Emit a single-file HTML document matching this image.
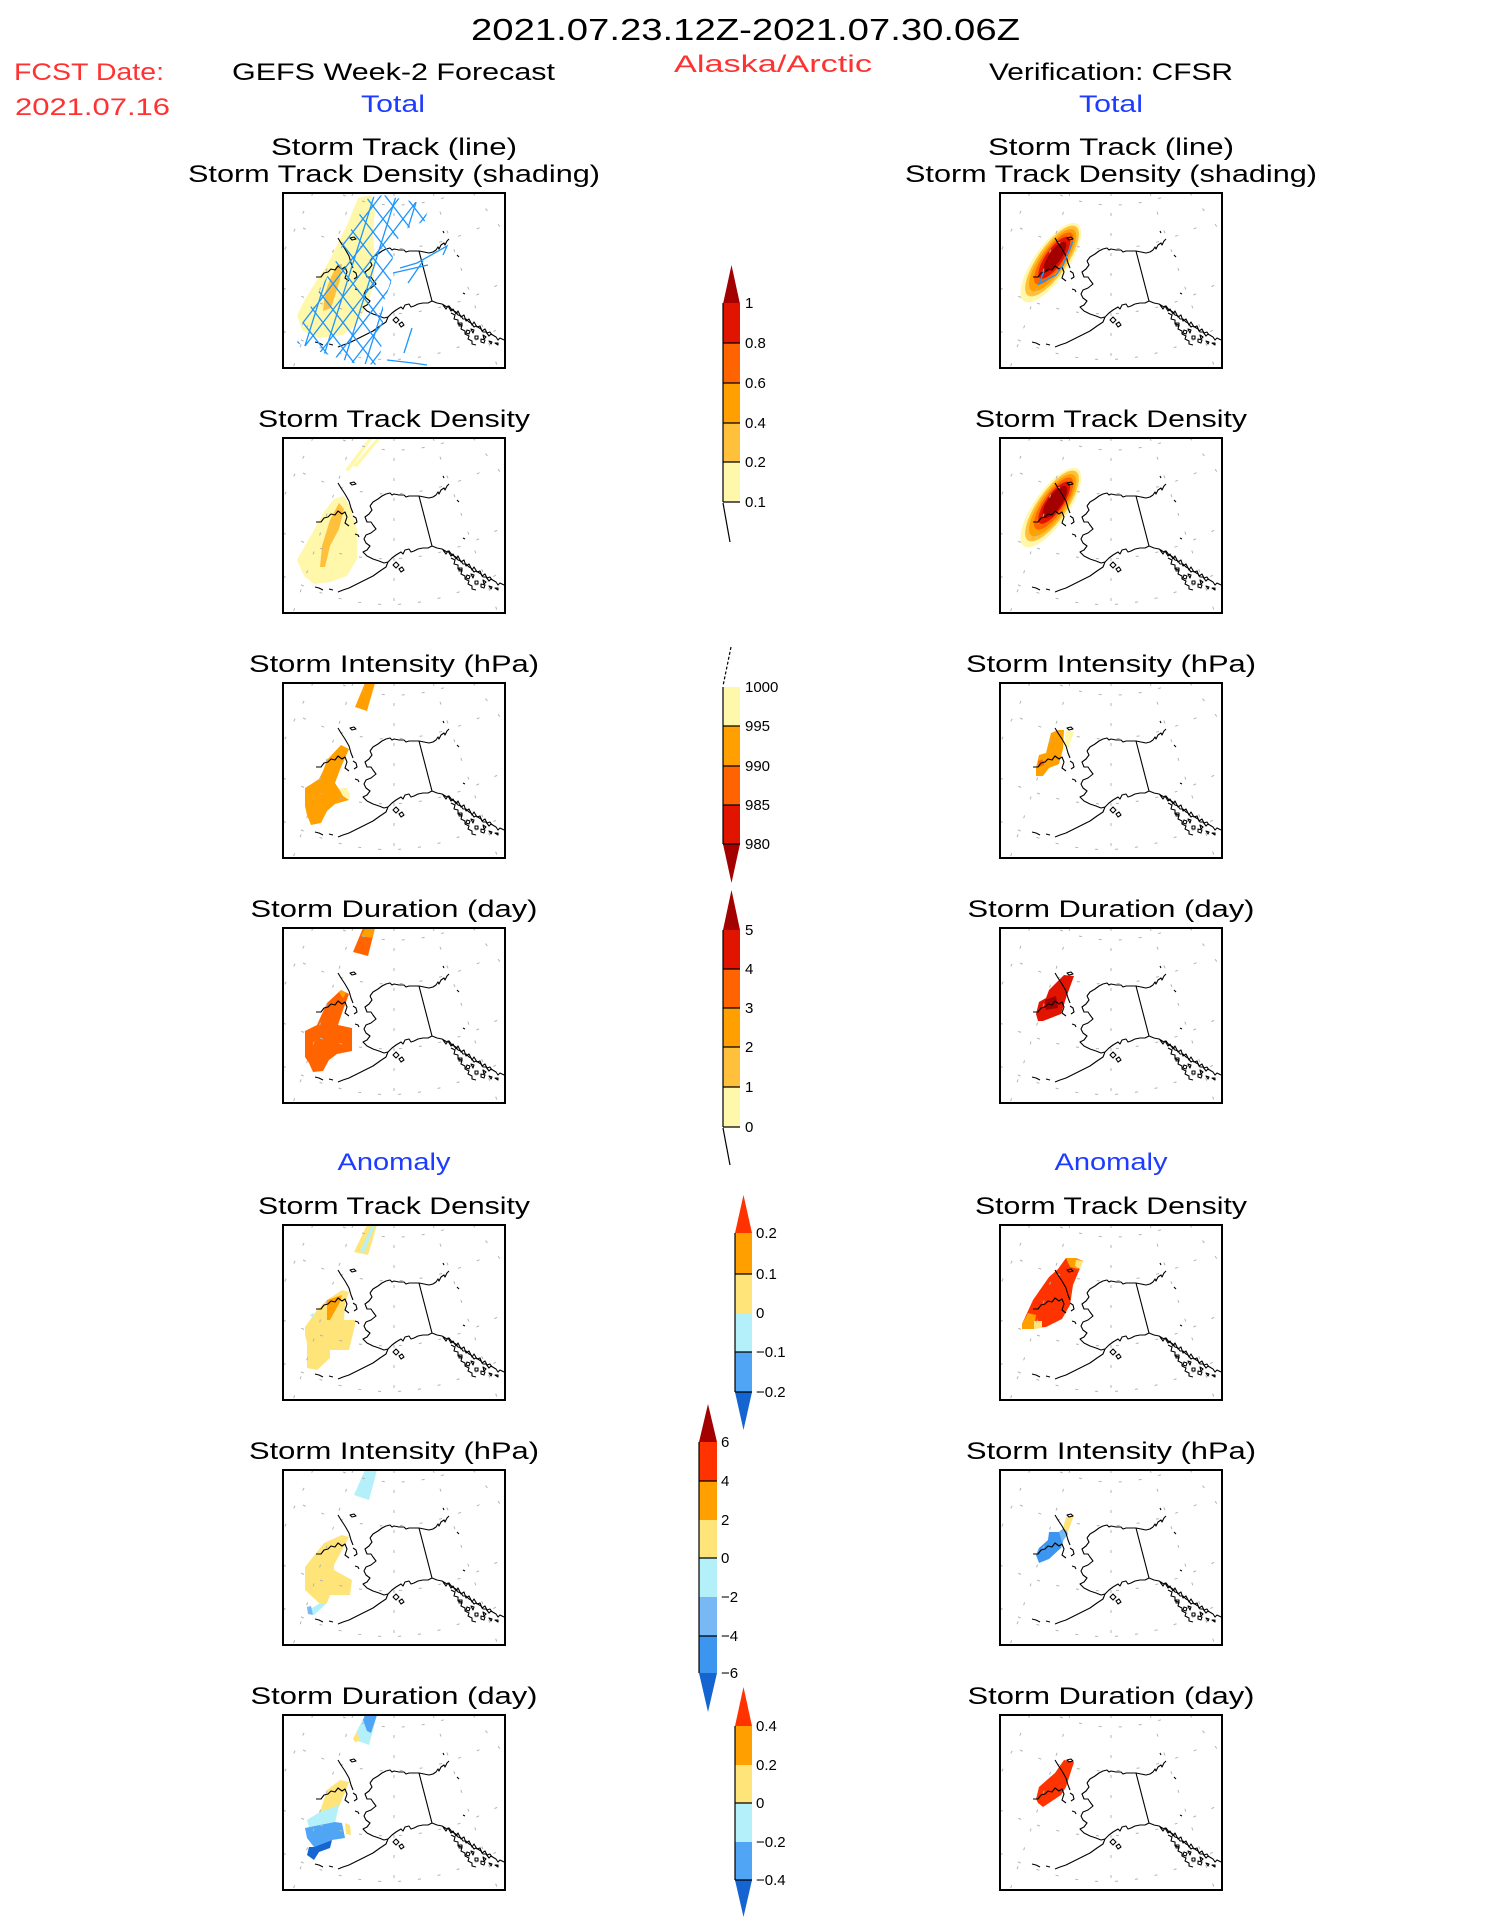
<!DOCTYPE html>
<html><head><meta charset="utf-8"><style>
html,body{margin:0;padding:0;background:#fff;}
svg{display:block;}
text{font-family:"Liberation Sans",sans-serif;}
</style></head><body>
<svg width="1487" height="1925" viewBox="0 0 1487 1925" xmlns="http://www.w3.org/2000/svg">
<defs>
<clipPath id="bx"><rect x="0" y="0" width="222" height="175"/></clipPath>
<clipPath id="band"><polygon points="14,150 20,128 35,100 52,70 60,50 72,30 85,5 100,2 146,12 142,28 118,38 110,60 108,90 100,110 100,140 96,172 70,170 40,160"/></clipPath>
<g id="m">
<g stroke="#b4b4b4" stroke-width="1" stroke-dasharray="3 17" fill="none">
<path d="M0,138 Q111,198 222,132"/>
<path d="M0,95 Q111,150 222,88"/>
<path d="M20,35 Q111,80 210,28"/>
<path d="M60,2 Q111,22 170,2"/>
<path d="M111,0 L111,175"/>
<path d="M70,0 L10,175"/>
<path d="M150,0 L215,175"/>
<path d="M30,0 L0,60"/>
<path d="M190,0 L222,40"/>
</g>
<g stroke="#000" stroke-width="1.1" fill="none" stroke-linejoin="round">
<path d="M87,68 L90,64 L95,61 L99,58 L103,56 L107,55 L109,57 L111,56 L116,57 L121,57 L123,59 L126,58 L131,58 L136,58 L141,59 L146,60 L150,59 L153,57 L155,54 L156,56 L158,52 L161,50 L162,52 L164,48 L166,46"/>
<path d="M136,58 L149,108"/>
<path d="M87,68 L89,72 L86,76 L82,79 L84,84 L88,84 L90,87 L93,91 L88,95 L83,97 L81,101 L83,105 L87,108 L84,112 L80,114 L84,118 L90,121 L96,123 L101,125 L105,124"/>
<path d="M105,124 L103,129 L97,133 L90,138 L82,142 L74,146 L66,150 L60,152 L55,154"/>
<path d="M46,151 L50,152 M32,149 L36,150 L40,152"/>
<path d="M105,124 L109,120 L113,117 L118,114 L120,116 L122,112 L126,111 L128,114 L131,113 L135,111 L140,110 L145,110 L149,108 L154,110 L159,111 L164,114 L166,113 L169,117 L173,119 L175,122 L178,123 L180,126 L183,126 L186,129 L188,130 L191,134 L193,133 L198,136 L200,139 L203,139 L206,143 L208,141 L213,144 L215,147 L217,145 L221,147"/>
<path d="M160,112 l3,4 l2,-3 l3,5 l2,-2 l3,5 l2,-3 l3,6 l3,-2 l2,6 l3,-2 l3,6 l2,-3 l3,5 l3,-1 l2,5 l3,-2 l2,4 l3,-1 l2,3"/>
<path d="M168,120 l4,2 l-1,4 l4,1 l0,4 l4,1 l-1,4 l4,2 l0,3 l4,2 l-1,3 l4,2 l0,3 l4,1"/>
<path d="M176,130 l3,0 l0,3 l-3,0z M184,137 l3,1 l-1,3 l-3,-1z M192,143 l3,0 l0,3 l-3,0z M198,146 l4,1 l-1,3 l-3,-1z M206,148 l3,1 l-1,2z M212,150 l3,0 l0,2z"/>
<path d="M110,127 l3,-3 l3,3 l-3,3z M116,131 l3,-2 l2,3 l-3,2z M188,136 l3,1 l-1,3z M200,142 l3,2 l-2,2z"/>
<path d="M55,45 L58,50 L62,56 L66,63 L68,70 L70,75"/>
<path d="M33,84 L38,84 L41,80 L45,79 L48,76 L52,77 L55,73 L59,76 L62,74 L64,79 L62,85 L66,88"/>
<path d="M70,78 L73,80 L74,84 L71,86 M67,45 l4,-1 l2,2 l-4,1z M72,96 l3,1 l1,2 M160,38 l1,2 M174,62 l2,2 M180,100 l2,1"/>
</g>
</g>
</defs>

<!-- Header text -->
<text x="471" y="40" font-size="31" textLength="549" lengthAdjust="spacingAndGlyphs" fill="#000">2021.07.23.12Z-2021.07.30.06Z</text>
<text x="14" y="80" font-size="24" textLength="150" lengthAdjust="spacingAndGlyphs" fill="#ff3232">FCST Date:</text>
<text x="15" y="115" font-size="24" textLength="155" lengthAdjust="spacingAndGlyphs" fill="#ff3232">2021.07.16</text>
<text x="232" y="80" font-size="24" textLength="323" lengthAdjust="spacingAndGlyphs" fill="#000">GEFS Week-2 Forecast</text>
<text x="674" y="72" font-size="24" textLength="198" lengthAdjust="spacingAndGlyphs" fill="#ff3232">Alaska/Arctic</text>
<text x="989" y="80" font-size="24" textLength="244" lengthAdjust="spacingAndGlyphs" fill="#000">Verification: CFSR</text>
<text x="361" y="112" font-size="24" textLength="64" lengthAdjust="spacingAndGlyphs" fill="#1e3cff">Total</text>
<text x="1079" y="112" font-size="24" textLength="64" lengthAdjust="spacingAndGlyphs" fill="#1e3cff">Total</text>

<g font-size="24" fill="#000" text-anchor="middle">
<text x="394" y="155" textLength="246" lengthAdjust="spacingAndGlyphs">Storm Track (line)</text>
<text x="394" y="182" textLength="412" lengthAdjust="spacingAndGlyphs">Storm Track Density (shading)</text>
<text x="394" y="427" textLength="272" lengthAdjust="spacingAndGlyphs">Storm Track Density</text>
<text x="394" y="672" textLength="290" lengthAdjust="spacingAndGlyphs">Storm Intensity (hPa)</text>
<text x="394" y="917" textLength="287" lengthAdjust="spacingAndGlyphs">Storm Duration (day)</text>
<text x="394" y="1170" textLength="113" lengthAdjust="spacingAndGlyphs" fill="#1e3cff">Anomaly</text>
<text x="394" y="1214" textLength="272" lengthAdjust="spacingAndGlyphs">Storm Track Density</text>
<text x="394" y="1459" textLength="290" lengthAdjust="spacingAndGlyphs">Storm Intensity (hPa)</text>
<text x="394" y="1704" textLength="287" lengthAdjust="spacingAndGlyphs">Storm Duration (day)</text>

<text x="1111" y="155" textLength="246" lengthAdjust="spacingAndGlyphs">Storm Track (line)</text>
<text x="1111" y="182" textLength="412" lengthAdjust="spacingAndGlyphs">Storm Track Density (shading)</text>
<text x="1111" y="427" textLength="272" lengthAdjust="spacingAndGlyphs">Storm Track Density</text>
<text x="1111" y="672" textLength="290" lengthAdjust="spacingAndGlyphs">Storm Intensity (hPa)</text>
<text x="1111" y="917" textLength="287" lengthAdjust="spacingAndGlyphs">Storm Duration (day)</text>
<text x="1111" y="1170" textLength="113" lengthAdjust="spacingAndGlyphs" fill="#1e3cff">Anomaly</text>
<text x="1111" y="1214" textLength="272" lengthAdjust="spacingAndGlyphs">Storm Track Density</text>
<text x="1111" y="1459" textLength="290" lengthAdjust="spacingAndGlyphs">Storm Intensity (hPa)</text>
<text x="1111" y="1704" textLength="287" lengthAdjust="spacingAndGlyphs">Storm Duration (day)</text>
</g>

<!-- LEFT row 1 -->
<g transform="translate(283,193)">
<g clip-path="url(#bx)">
<polygon fill="#fff7aa" points="75,5 88,2 92,15 90,40 92,70 90,95 80,120 70,135 60,142 35,145 20,138 14,123 20,110 32,90 45,70 55,50 65,30"/>
<polygon fill="#ffc03c" points="54,72 59,71 57,87 48,115 40,118 42,100 48,84"/>
</g>
<use href="#m"/>
<g clip-path="url(#band)" stroke="#1e96ff" stroke-width="1.3" fill="none">
<path d="M-140,0 L-5,175 M-120,0 L15,175 M-100,0 L35,175 M-80,0 L55,175 M-60,0 L75,175 M-40,0 L95,175 M-20,0 L115,175 M0,0 L135,175 M20,0 L155,175 M40,0 L175,175 M60,0 L195,175 M80,0 L215,175 M100,0 L235,175 M120,0 L255,175 M140,0 L275,175"/>
<path d="M0,0 L-135,175 M20,0 L-115,175 M40,0 L-95,175 M60,0 L-75,175 M80,0 L-55,175 M100,0 L-35,175 M120,0 L-15,175 M140,0 L5,175 M160,0 L25,175 M180,0 L45,175 M200,0 L65,175 M220,0 L85,175 M240,0 L105,175 M260,0 L125,175 M280,0 L145,175"/>
<path d="M70,0 L15,175 M92,0 L37,175 M114,0 L59,175 M136,0 L81,175 M158,0 L103,175"/>
</g>
<path stroke="#1e96ff" stroke-width="1.3" fill="none" d="M117,75 L134,70 L164,53 L160,62 M110,80 L145,72 M121,160 L129,135 M104,167 L130,170 L144,172 M125,90 L140,68"/>
<rect x="0" y="0" width="222" height="175" fill="none" stroke="#000" stroke-width="2"/>
</g>

<!-- LEFT row 2 -->
<g transform="translate(283,438)">
<g clip-path="url(#bx)">
<polygon fill="#fff7aa" points="14,122 27,99 41,74 51,61 61,58 67,69 74,91 74,121 64,138 47,144 31,146 21,138"/>
<polygon fill="#fff7aa" points="62,32 66,33 90,0 86,0"/>
<polygon fill="#fff7aa" points="70,28 74,29 98,0 94,0"/>
<polygon fill="#ffc03c" points="37,129 39,108 47,82 56,65 61,71 56,91 47,108 42,129"/>
</g>
<use href="#m"/>
<rect x="0" y="0" width="222" height="175" fill="none" stroke="#000" stroke-width="2"/>
</g>

<!-- LEFT row 3 -->
<g transform="translate(283,683)">
<g clip-path="url(#bx)">
<polygon fill="#ffa000" points="72,24 82,0 92,0 84,28"/>
<polygon fill="#ffa000" points="44,77 58,62 66,66 58,84 52,100 56,106 64,105 66,117 52,121 44,128 38,140 28,142 24,132 22,123 22,105 30,100 36,96 40,88"/>
<polygon fill="#fff7aa" points="56,106 64,105 67,112 66,117 60,113"/>
</g>
<use href="#m"/>
<rect x="0" y="0" width="222" height="175" fill="none" stroke="#000" stroke-width="2"/>
</g>

<!-- LEFT row 4 -->
<g transform="translate(283,928)">
<g clip-path="url(#bx)">
<polygon fill="#ff6400" points="70,24 80,0 92,0 85,28"/>
<polygon fill="#ffa000" points="78,8 82,0 92,0 89,10"/>
<polygon fill="#ff6400" points="44,75 58,62 66,66 60,82 55,97 69,100 69,123 54,126 46,132 40,143 30,144 26,135 22,129 22,103 34,97 38,88"/>
<polygon fill="#ffa000" points="56,64 58,62 63,65 60,70"/>
</g>
<use href="#m"/>
<rect x="0" y="0" width="222" height="175" fill="none" stroke="#000" stroke-width="2"/>
</g>

<!-- LEFT row 5 -->
<g transform="translate(283,1225)">
<g clip-path="url(#bx)">
<polygon fill="#ffe47a" points="71,27 84,0 94,0 85,30"/>
<polygon fill="#b4f0fa" points="77,27 89,0 92,0 81,28"/>
<polygon fill="#ffe47a" points="22,102 34,85 44,75 59,65 66,67 62,78 61,95 72,95 72,100 66,125 47,125 47,133 34,145 24,143 24,118 22,110"/>
<polygon fill="#ffa000" points="44,75 59,70 57,77 47,95 44,95"/>
<polygon fill="#b4f0fa" points="27,90 31,88 30,93"/>
</g>
<use href="#m"/>
<rect x="0" y="0" width="222" height="175" fill="none" stroke="#000" stroke-width="2"/>
</g>

<!-- LEFT row 6 -->
<g transform="translate(283,1470)">
<g clip-path="url(#bx)">
<polygon fill="#b4f0fa" points="71,25 82,0 94,0 86,30"/>
<polygon fill="#ffe47a" points="22,97 41,73 59,65 66,67 51,95 51,100 69,110 67,125 47,125 44,133 36,133 22,120"/>
<polygon fill="#b4f0fa" points="26,140 37,133 44,133 31,145"/>
<polygon fill="#78b9f5" points="24,137 28,136 30,145 25,144"/>
</g>
<use href="#m"/>
<rect x="0" y="0" width="222" height="175" fill="none" stroke="#000" stroke-width="2"/>
</g>

<!-- LEFT row 7 -->
<g transform="translate(283,1715)">
<g clip-path="url(#bx)">
<polygon fill="#b4f0fa" points="70,24 82,0 94,0 86,30"/>
<polygon fill="#50a5f5" points="80,5 82,0 94,0 88,18 84,16"/>
<polygon fill="#ffe47a" points="70,24 74,16 77,26 72,27"/>
<polygon fill="#ffe47a" points="37,97 44,75 57,65 66,67 56,92"/>
<polygon fill="#b4f0fa" points="24,105 37,97 56,90 52,108 26,113"/>
<polygon fill="#50a5f5" points="22,113 52,107 59,108 62,123 49,125 31,132 24,123"/>
<polygon fill="#1464d2" points="24,140 31,145 36,137 47,133 49,125 31,132 26,132"/>
<polygon fill="#ffe47a" points="62,108 67,110 68,120 63,119"/>
</g>
<use href="#m"/>
<rect x="0" y="0" width="222" height="175" fill="none" stroke="#000" stroke-width="2"/>
</g>

<!-- RIGHT row 1 -->
<g transform="translate(1000,193)">
<g clip-path="url(#bx)">
<g transform="translate(52,68) rotate(-55)">
<ellipse cx="-2" cy="0" rx="47" ry="17" fill="#fff7aa"/>
<ellipse cx="0" cy="0" rx="42" ry="14.5" fill="#ffc03c"/>
<ellipse cx="1" cy="0" rx="37" ry="12.5" fill="#ffa000"/>
<ellipse cx="3" cy="0" rx="31" ry="10.5" fill="#ff6400"/>
<ellipse cx="4" cy="0" rx="25" ry="8.5" fill="#e11400"/>
<ellipse cx="5" cy="0" rx="18" ry="6" fill="#a50000"/>
</g>
</g>
<use href="#m"/>
<path stroke="#1e96ff" stroke-width="1.4" fill="none" d="M44,78 L39,91 L46,87 L56,82 L63,72 L73,48"/>
<rect x="0" y="0" width="222" height="175" fill="none" stroke="#000" stroke-width="2"/>
</g>

<!-- RIGHT row 2 -->
<g transform="translate(1000,438)">
<g clip-path="url(#bx)">
<g transform="translate(52,68) rotate(-55)">
<ellipse cx="-2" cy="0" rx="47" ry="17" fill="#fff7aa"/>
<ellipse cx="0" cy="0" rx="42" ry="14.5" fill="#ffc03c"/>
<ellipse cx="1" cy="0" rx="37" ry="12.5" fill="#ffa000"/>
<ellipse cx="3" cy="0" rx="31" ry="10.5" fill="#ff6400"/>
<ellipse cx="4" cy="0" rx="25" ry="8.5" fill="#e11400"/>
<ellipse cx="5" cy="0" rx="19" ry="7" fill="#a50000"/>
</g>
</g>
<use href="#m"/>
<rect x="0" y="0" width="222" height="175" fill="none" stroke="#000" stroke-width="2"/>
</g>

<!-- RIGHT row 3 -->
<g transform="translate(1000,683)">
<polygon fill="#ffa000" points="36,85 39,72 46,70 51,50 58,47 64,47 63,66 59,81 49,85 43,93 36,93"/>
<polygon fill="#fff7aa" points="66,47 74,49 68,66 64,62"/>
<polygon fill="#ff6400" points="38,78 44,76 44,82 39,84"/>
<use href="#m"/>
<rect x="0" y="0" width="222" height="175" fill="none" stroke="#000" stroke-width="2"/>
</g>

<!-- RIGHT row 4 -->
<g transform="translate(1000,928)">
<polygon fill="#e11400" points="36,86 39,74 46,70 49,62 64,47 74,48 66,70 61,86 43,93 38,93"/>
<polygon fill="#a50000" points="45,72 56,68 58,80 46,82"/>
<use href="#m"/>
<rect x="0" y="0" width="222" height="175" fill="none" stroke="#000" stroke-width="2"/>
</g>

<!-- RIGHT row 5 -->
<g transform="translate(1000,1225)">
<polygon fill="#ff3300" points="22,99 33,75 49,52 58,44 66,33 76,33 83,36 73,60 70,80 62,94 46,102 22,104"/>
<polygon fill="#ffa000" points="66,33 76,33 83,36 78,44 70,42"/>
<polygon fill="#ffe47a" points="76,35 83,36 80,44 75,41"/>
<polygon fill="#ffa000" points="22,99 28,88 36,90 34,104 22,104"/>
<polygon fill="#ffe47a" points="34,96 42,96 42,103 34,104"/>
<use href="#m"/>
<rect x="0" y="0" width="222" height="175" fill="none" stroke="#000" stroke-width="2"/>
</g>

<!-- RIGHT row 6 -->
<g transform="translate(1000,1470)">
<polygon fill="#3c96f0" points="36,85 39,78 48,70 49,62 59,62 64,58 66,62 61,78 49,89 39,93"/>
<polygon fill="#78b9f5" points="59,62 66,58 68,64 62,72"/>
<polygon fill="#ffe47a" points="66,47 74,45 68,62 63,58"/>
<use href="#m"/>
<rect x="0" y="0" width="222" height="175" fill="none" stroke="#000" stroke-width="2"/>
</g>

<!-- RIGHT row 7 -->
<g transform="translate(1000,1715)">
<polygon fill="#ff3300" points="36,84 39,72 48,64 55,58 64,45 74,47 66,72 61,80 43,92 38,88"/>
<use href="#m"/>
<rect x="0" y="0" width="222" height="175" fill="none" stroke="#000" stroke-width="2"/>
</g>

<!-- Colorbar 1: density -->
<g>
<polygon fill="#a50000" points="723,304 740,304 731.5,265"/>
<rect x="723" y="303" width="17" height="40" fill="#e11400"/>
<rect x="723" y="343" width="17" height="40" fill="#ff6400"/>
<rect x="723" y="383" width="17" height="40" fill="#ffa000"/>
<rect x="723" y="423" width="17" height="39" fill="#ffc03c"/>
<rect x="723" y="462" width="17" height="40" fill="#fff7aa"/>
<g stroke="#000" stroke-width="1.2">
<line x1="723" y1="303" x2="723" y2="502"/>
<line x1="723" y1="343" x2="740" y2="343"/>
<line x1="723" y1="383" x2="740" y2="383"/>
<line x1="723" y1="423" x2="740" y2="423"/>
<line x1="723" y1="462" x2="740" y2="462"/>
<line x1="723" y1="502" x2="740" y2="502"/>
<line x1="723" y1="503" x2="730" y2="542"/>
</g>
<g font-size="15" fill="#000">
<text x="745" y="308">1</text><text x="745" y="348">0.8</text><text x="745" y="388">0.6</text><text x="745" y="428">0.4</text><text x="745" y="467">0.2</text><text x="745" y="507">0.1</text>
</g>
</g>

<!-- Colorbar 2: intensity -->
<g>
<rect x="723" y="687" width="17" height="39" fill="#fff7aa"/>
<rect x="723" y="726" width="17" height="40" fill="#ffa000"/>
<rect x="723" y="766" width="17" height="39" fill="#ff6400"/>
<rect x="723" y="805" width="17" height="39" fill="#e11400"/>
<polygon fill="#a50000" points="723,844 740,844 731.5,883"/>
<g stroke="#000" stroke-width="1.2">
<line x1="723" y1="687" x2="723" y2="844"/>
<line x1="723" y1="726" x2="740" y2="726"/>
<line x1="723" y1="766" x2="740" y2="766"/>
<line x1="723" y1="805" x2="740" y2="805"/>
<line x1="723" y1="844" x2="740" y2="844"/>
<line x1="731" y1="647" x2="723" y2="686" stroke-dasharray="3 2"/>
</g>
<g font-size="15" fill="#000">
<text x="745" y="692">1000</text><text x="745" y="731">995</text><text x="745" y="771">990</text><text x="745" y="810">985</text><text x="745" y="849">980</text>
</g>
</g>

<!-- Colorbar 3: duration -->
<g>
<polygon fill="#a50000" points="723,930 740,930 731.5,890"/>
<rect x="723" y="930" width="17" height="39" fill="#e11400"/>
<rect x="723" y="969" width="17" height="39" fill="#ff6400"/>
<rect x="723" y="1008" width="17" height="39" fill="#ffa000"/>
<rect x="723" y="1047" width="17" height="40" fill="#ffc03c"/>
<rect x="723" y="1087" width="17" height="40" fill="#fff7aa"/>
<g stroke="#000" stroke-width="1.2">
<line x1="723" y1="930" x2="723" y2="1127"/>
<line x1="723" y1="969" x2="740" y2="969"/>
<line x1="723" y1="1008" x2="740" y2="1008"/>
<line x1="723" y1="1047" x2="740" y2="1047"/>
<line x1="723" y1="1087" x2="740" y2="1087"/>
<line x1="723" y1="1127" x2="740" y2="1127"/>
<line x1="723" y1="1128" x2="730" y2="1165"/>
</g>
<g font-size="15" fill="#000">
<text x="745" y="935">5</text><text x="745" y="974">4</text><text x="745" y="1013">3</text><text x="745" y="1052">2</text><text x="745" y="1092">1</text><text x="745" y="1132">0</text>
</g>
</g>

<!-- Colorbar 4: density anomaly -->
<g>
<polygon fill="#ff3300" points="735,1233 752,1233 743.5,1195"/>
<rect x="735" y="1233" width="17" height="41" fill="#ffa000"/>
<rect x="735" y="1274" width="17" height="39" fill="#ffe47a"/>
<rect x="735" y="1313" width="17" height="39" fill="#b4f0fa"/>
<rect x="735" y="1352" width="17" height="40" fill="#50a5f5"/>
<polygon fill="#1464d2" points="735,1392 752,1392 743.5,1430"/>
<g stroke="#000" stroke-width="1.2">
<line x1="735" y1="1233" x2="735" y2="1392"/>
<line x1="735" y1="1274" x2="752" y2="1274"/>
<line x1="735" y1="1352" x2="752" y2="1352"/>
<line x1="735" y1="1392" x2="752" y2="1392"/>
</g>
<g font-size="15" fill="#000">
<text x="756" y="1238">0.2</text><text x="756" y="1279">0.1</text><text x="756" y="1318">0</text><text x="756" y="1357">−0.1</text><text x="756" y="1397">−0.2</text>
</g>
</g>

<!-- Colorbar 5: intensity anomaly -->
<g>
<polygon fill="#a50000" points="699,1442 717,1442 708,1404"/>
<rect x="699" y="1442" width="18" height="39" fill="#ff3300"/>
<rect x="699" y="1481" width="18" height="39" fill="#ffa000"/>
<rect x="699" y="1520" width="18" height="38" fill="#ffe47a"/>
<rect x="699" y="1558" width="18" height="39" fill="#b4f0fa"/>
<rect x="699" y="1597" width="18" height="39" fill="#78b9f5"/>
<rect x="699" y="1636" width="18" height="37" fill="#3c96f0"/>
<polygon fill="#1464d2" points="699,1673 717,1673 708,1712"/>
<g stroke="#000" stroke-width="1.2">
<line x1="699" y1="1442" x2="699" y2="1673"/>
<line x1="699" y1="1481" x2="717" y2="1481"/>
<line x1="699" y1="1558" x2="717" y2="1558"/>
<line x1="699" y1="1636" x2="717" y2="1636"/>
</g>
<g font-size="15" fill="#000">
<text x="721" y="1447">6</text><text x="721" y="1486">4</text><text x="721" y="1525">2</text><text x="721" y="1563">0</text><text x="721" y="1602">−2</text><text x="721" y="1641">−4</text><text x="721" y="1678">−6</text>
</g>
</g>

<!-- Colorbar 6: duration anomaly -->
<g>
<polygon fill="#ff3300" points="735,1726 752,1726 743.5,1687"/>
<rect x="735" y="1726" width="17" height="39" fill="#ffa000"/>
<rect x="735" y="1765" width="17" height="38" fill="#ffe47a"/>
<rect x="735" y="1803" width="17" height="39" fill="#b4f0fa"/>
<rect x="735" y="1842" width="17" height="38" fill="#50a5f5"/>
<polygon fill="#1464d2" points="735,1880 752,1880 743.5,1917"/>
<g stroke="#000" stroke-width="1.2">
<line x1="735" y1="1726" x2="735" y2="1880"/>
<line x1="735" y1="1803" x2="752" y2="1803"/>
<line x1="735" y1="1880" x2="752" y2="1880"/>
</g>
<g font-size="15" fill="#000">
<text x="756" y="1731">0.4</text><text x="756" y="1770">0.2</text><text x="756" y="1808">0</text><text x="756" y="1847">−0.2</text><text x="756" y="1885">−0.4</text>
</g>
</g>
</svg>
</body></html>
